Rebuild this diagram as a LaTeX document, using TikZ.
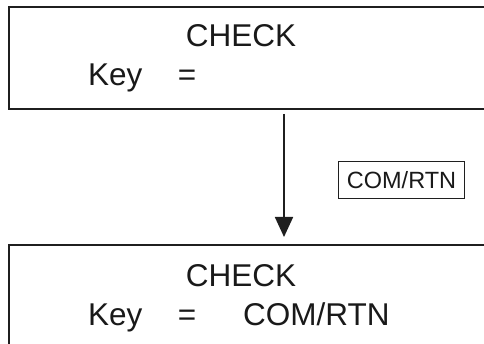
\documentclass[tikz,border=0pt]{standalone}
\usepackage{fontspec}
\setmainfont{Liberation Sans}
\usetikzlibrary{arrows.meta}
\begin{document}
\begin{tikzpicture}[x=1pt,y=1pt,
  panel/.style={draw=black!88, line width=2pt, rectangle, inner sep=0pt},
  big/.style={font=\fontsize{31.5}{31.5}\selectfont, inner sep=0pt, text=black!90},
  tag/.style={draw=black!88, line width=1.3pt, rectangle, inner sep=0pt,
              minimum width=126pt, minimum height=37pt,
              font=\fontsize{23.5}{23.5}\selectfont, text=black!90},
  flow/.style={draw=black!88, line width=1.8pt, -{Triangle[width=18pt,length=20pt]}}]
\useasboundingbox (0,0) rectangle (484,344);
\clip (0,0) rectangle (484,344);
\node[panel, minimum width=486pt, minimum height=102pt] (top) at (252,286) {};
\node[panel, minimum width=486pt, minimum height=107pt] (bot) at (252,45.5) {};
\node[big, anchor=base] (t1) at (241,297) {CHECK};
\node[big, anchor=base west] (t2) at (88,258) {Key};
\node[big, anchor=base] (t3) at (187,258) {=};
\node[big, anchor=base] (b1) at (241,57) {CHECK};
\node[big, anchor=base west] (b2) at (88,18) {Key};
\node[big, anchor=base] (b3) at (187,18) {=};
\node[big, anchor=base west] (b4) at (243,18) {COM/RTN};
\node[tag] (lbl) at (401.5,164) {COM/RTN};
\coordinate (ax) at (284,170);
\draw[flow, shorten <=4pt, shorten >=7pt] (ax |- top.south) -- (ax |- bot.north);
\end{tikzpicture}
\end{document}
